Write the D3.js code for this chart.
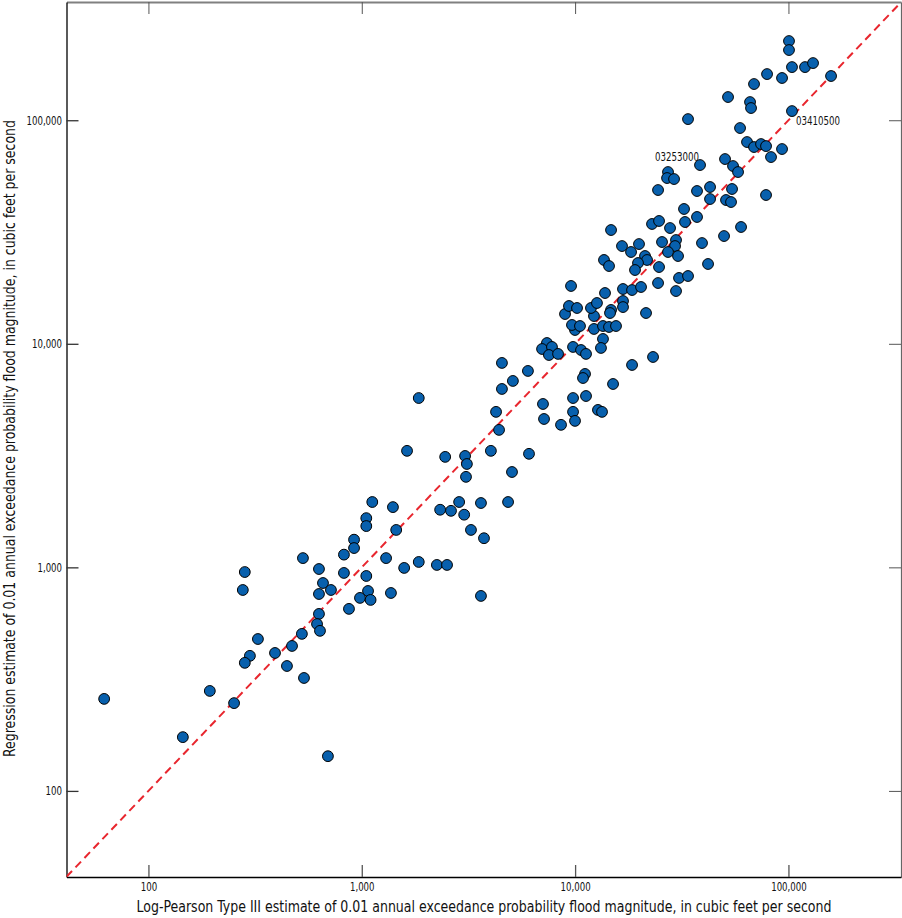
<!DOCTYPE html>
<html>
<head>
<meta charset="utf-8">
<script src="https://cdn.jsdelivr.net/npm/d3@7"></script>
<style>
  html, body { margin: 0; padding: 0; background: #fff; }
  svg text { font-family: "Liberation Sans Narrow", "Arial Narrow", "DejaVu Sans Condensed", sans-serif; fill: #111; }
</style>
</head>
<body>
<svg id="chart" width="902" height="918"></svg>
<script>
// Log-Pearson Type III estimate (x) and regression estimate (y), cubic feet per second
var lpIII = [
  1120, 1050, 1050, 920, 920, 825, 530, 283, 630, 825, 1050, 277, 658, 717, 630, 1070, 981, 1100, 871, 630,
  617, 637, 524, 326, 471, 392, 299, 283, 446, 536, 194, 252, 62, 145, 694,
  1400, 1450, 1300, 1580, 1850, 2250, 2510, 1370, 3620, 2330, 2620, 2860, 3020, 3620, 4850, 3250, 3740,
  1630, 2460, 3050, 4030, 6080, 3110, 3080, 5060, 4400, 4260, 1850, 4540, 5110, 6010, 4540,
  7070, 7150, 8590, 9780, 9990, 9780, 11250, 12800, 13370, 11130, 10890, 15060, 18490, 23190,
  7380, 7000, 7790, 7540, 8320, 9780, 10660, 11250, 13510, 13220, 9990, 12260, 13510, 14420, 15550,
  9670, 10540, 12260, 8970, 9360, 10210, 11870, 12660, 14740, 14580, 16770, 16770, 21500, 9570,
  13810, 16770, 18490, 20370, 24480, 29720, 30700, 33830, 13660, 14420, 21270, 21740, 19720, 19090,
  24740, 41990, 16590, 18290, 19930, 25550, 29720, 29410, 27260, 30370, 39340, 49900, 59960, 14740,
  22940, 24740, 27860, 32750, 37280, 32400, 50990, 53810, 42910, 42910, 54400, 37280, 24480, 27260,
  26980, 29090, 38510, 50440, 54990, 58040, 63960, 68970, 74380, 78520, 82860, 93320, 59310, 33830,
  66070, 66780, 52100, 68970, 79380, 93320, 103900, 119600, 130400, 158400, 100600, 100600, 103900, 78520
];
var regression = [
  1960, 1660, 1530, 1330, 1220, 1140, 1100, 953, 983, 944, 915, 792, 851, 792, 760, 784, 730, 715, 652, 619,
  558, 520, 504, 478, 445, 414, 402, 374, 362, 320, 280, 247, 258, 174, 143,
  1860, 1470, 1100, 994, 1057, 1025, 1025, 768, 745, 1810, 1790, 1960, 1720, 1940, 1960, 1470, 1350,
  3320, 3120, 3150, 3320, 3220, 2900, 2540, 2670, 4120, 4960, 5720, 6280, 6820, 7560, 8210,
  5380, 4610, 4340, 4960, 4520, 5720, 5840, 5060, 4960, 7330, 7030, 6610, 8040, 8730,
  10080, 9480, 9680, 8910, 9010, 9680, 9380, 9010, 10510, 9580, 11530, 11650, 12010, 11890, 12010,
  12140, 12010, 13310, 13590, 14760, 14460, 14460, 15220, 14170, 13730, 15540, 14600, 13730, 18140,
  16870, 17580, 17400, 17950, 18700, 17220, 19700, 20100, 23710, 22280, 24700, 23710, 22980, 21380,
  22050, 22750, 27370, 25740, 27940, 28530, 29120, 27370, 25740, 24700, 28230, 30340, 33300, 32280,
  34350, 35430, 32950, 35060, 36920, 40090, 43970, 43070, 44420, 50270, 49250, 48240, 48730, 58660,
  55140, 54580, 63040, 67060, 62400, 58660, 79900, 75890, 78260, 76650, 68450, 74340, 92290, 101200,
  120600, 113400, 127000, 145200, 160900, 154500, 172900, 172900, 180200, 157700, 226100, 206100, 109900, 46290
];
var tickValues = [100, 1000, 10000, 100000];
var siteLabels = ["03410500", "03253000"];
var siteX = [103900, 27260];
var siteY = [109900, 58660];

var xTitle = "Log-Pearson Type III estimate of 0.01 annual exceedance probability flood magnitude, in cubic feet per second";
var yTitle = "Regression estimate of 0.01 annual exceedance probability flood magnitude, in cubic feet per second";

var svg = d3.select("#chart");
var plotLeft = 66.5, plotRight = 901, plotTop = 2, plotBottom = 877;

var x = d3.scaleLog().domain([41.3, 337000]).range([plotLeft, plotRight]);
var y = d3.scaleLog().domain([41.2, 338000]).range([plotBottom, plotTop]);
var fmt = d3.format(",");

// narrow typeface of the original: digits ~5.5px, commas ~2.5px wide
function narrowWidth(s) {
  var commas = (s.match(/,/g) || []).length;
  return (s.length - commas) * 5.5 + commas * 2.5;
}
function condense(sel) {
  sel.attr("textLength", function() { return narrowWidth(this.textContent); })
    .attr("lengthAdjust", "spacingAndGlyphs");
}

svg.append("defs").append("clipPath").attr("id", "plot-clip")
  .append("rect")
  .attr("x", plotLeft).attr("y", plotTop)
  .attr("width", plotRight - plotLeft).attr("height", plotBottom - plotTop);

// top and right frame, grey
svg.append("g")
  .attr("transform", "translate(0," + plotTop + ")")
  .call(d3.axisTop(x).tickValues(tickValues).tickSizeInner(-12).tickSizeOuter(0).tickFormat(""))
  .call(function(g) {
    g.select(".domain").attr("stroke", "#808080").attr("stroke-width", 2);
    g.selectAll(".tick line").attr("stroke", "#555");
  });
svg.append("g")
  .attr("transform", "translate(" + plotRight + ",0)")
  .call(d3.axisRight(y).tickValues(tickValues).tickSizeInner(-12).tickSizeOuter(0).tickFormat(""))
  .call(function(g) {
    g.select(".domain").attr("stroke", "#666").attr("stroke-width", 1.2);
    g.selectAll(".tick line").attr("stroke", "#555");
  });

// bottom and left axes with labels
svg.append("g")
  .attr("transform", "translate(0," + plotBottom + ")")
  .call(d3.axisBottom(x).tickValues(tickValues).tickSizeInner(-12).tickSizeOuter(0).tickPadding(5).tickFormat(fmt))
  .call(function(g) {
    g.select(".domain").attr("stroke", "#000").attr("stroke-width", 1.3);
    g.selectAll(".tick line").attr("stroke", "#555").attr("stroke-width", 1.3);
    g.selectAll(".tick text").attr("font-size", 12.5).attr("font-family", null).call(condense);
  });
svg.append("g")
  .attr("transform", "translate(" + plotLeft + ",0)")
  .call(d3.axisLeft(y).tickValues(tickValues).tickSizeInner(-12).tickSizeOuter(0).tickPadding(4.5).tickFormat(fmt))
  .call(function(g) {
    g.select(".domain").attr("stroke", "#000").attr("stroke-width", 1.3);
    g.selectAll(".tick line").attr("stroke", "#333").attr("stroke-width", 1.3);
    g.selectAll(".tick text").attr("font-size", 12.5).attr("font-family", null).call(condense);
  });

// line of equality
var lo = Math.max(x.domain()[0], y.domain()[0]);
var hi = Math.min(x.domain()[1], y.domain()[1]);
svg.append("line")
  .attr("clip-path", "url(#plot-clip)")
  .attr("x1", x(lo)).attr("y1", y(lo))
  .attr("x2", x(hi)).attr("y2", y(hi))
  .attr("stroke", "#e8262e")
  .attr("stroke-width", 2)
  .attr("stroke-dasharray", "8,5");

// points
svg.append("g")
  .selectAll("circle")
  .data(lpIII.map(function(v, i) { return [v, regression[i]]; }))
  .join("circle")
  .attr("cx", function(d) { return x(d[0]); })
  .attr("cy", function(d) { return y(d[1]); })
  .attr("r", 5.4)
  .attr("fill", "#0860ad")
  .attr("stroke", "#000")
  .attr("stroke-width", 1);

// station labels
var labelOffsets = [[4, 14], [-13, -11]];
svg.append("g")
  .selectAll("text")
  .data(siteLabels)
  .join("text")
  .attr("x", function(d, i) { return x(siteX[i]) + labelOffsets[i][0]; })
  .attr("y", function(d, i) { return y(siteY[i]) + labelOffsets[i][1]; })
  .attr("font-size", 12.5)
  .text(function(d) { return d; })
  .call(condense);

// axis titles
svg.append("text")
  .attr("x", 484).attr("y", 911.5)
  .attr("text-anchor", "middle")
  .attr("font-size", 15)
  .attr("textLength", 695)
  .attr("lengthAdjust", "spacingAndGlyphs")
  .text(xTitle);
svg.append("text")
  .attr("transform", "translate(15,438.5) rotate(-90)")
  .attr("text-anchor", "middle")
  .attr("font-size", 15)
  .attr("textLength", 637)
  .attr("lengthAdjust", "spacingAndGlyphs")
  .text(yTitle);
</script>
</body>
</html>
